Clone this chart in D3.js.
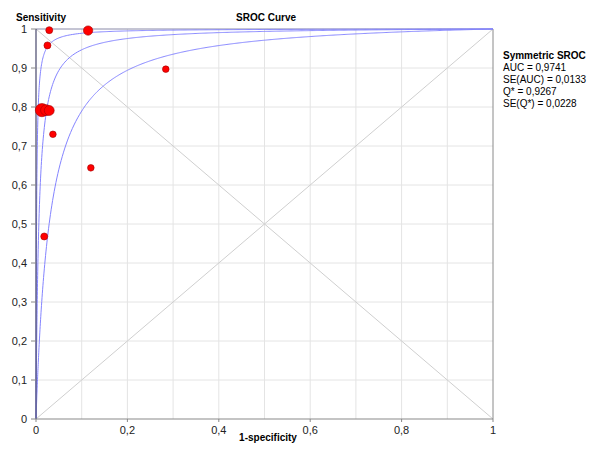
<!DOCTYPE html>
<html>
<head>
<meta charset="utf-8">
<script src="https://cdn.jsdelivr.net/npm/d3@7"></script>
<style>
html,body{margin:0;padding:0;background:#fff;}
svg{display:block;font-family:"Liberation Sans",Arial,sans-serif;}
</style>
</head>
<body>
<script>
// Study points (1-specificity, sensitivity) and relative weights
const fpr  = [0.029, 0.114, 0.025, 0.284, 0.013, 0.022, 0.029, 0.037, 0.120, 0.018];
const sens = [0.997, 0.996, 0.958, 0.897, 0.792, 0.792, 0.791, 0.730, 0.644, 0.468];
const weight = [9, 16, 9, 8, 32, 22, 18, 8, 8, 9];
// SROC curve parameters (D = a, symmetric): lower bound, estimate, upper bound
const curveNames = ["lower", "sroc", "upper"];
const curveA = [3.52, 5.074, 6.7];
// Axis ticks
const yTicks = [0,0.1,0.2,0.3,0.4,0.5,0.6,0.7,0.8,0.9,1];
const xTicks = [0,0.2,0.4,0.6,0.8,1];
const xGrid = [0.1,0.2,0.3,0.4,0.5,0.6,0.7,0.8,0.9];
const yGrid = [0.1,0.2,0.3,0.4,0.5,0.6,0.7,0.8,0.9];
const legendTitle = "Symmetric SROC";
const legendLines = ["AUC = 0,9741", "SE(AUC) = 0,0133", "Q* = 0,9267", "SE(Q*) = 0,0228"];

const W = 600, H = 458;
const svg = d3.select("body").append("svg").attr("width", W).attr("height", H);
const x = d3.scaleLinear().domain([0,1]).range([36, 493]);
const y = d3.scaleLinear().domain([0,1]).range([419, 29]);
const r = d3.scaleSqrt().domain([0, d3.max(weight)]).range([0, 6.6]);
const fmt = d => d === 0 ? "0" : d === 1 ? "1" : d.toFixed(1).replace(".", ",");

// grid
svg.append("g").selectAll("line").data(xGrid).join("line")
  .attr("x1", d => x(d)).attr("x2", d => x(d)).attr("y1", y(0)).attr("y2", y(1))
  .attr("stroke", "#e4e4e4").attr("stroke-width", 1);
svg.append("g").selectAll("line").data(yGrid).join("line")
  .attr("y1", d => y(d)).attr("y2", d => y(d)).attr("x1", x(0)).attr("x2", x(1))
  .attr("stroke", "#e4e4e4").attr("stroke-width", 1);

// diagonals
svg.append("line").attr("x1", x(0)).attr("y1", y(0)).attr("x2", x(1)).attr("y2", y(1))
  .attr("stroke", "#cfcfcf").attr("stroke-width", 1);
svg.append("line").attr("x1", x(0)).attr("y1", y(1)).attr("x2", x(1)).attr("y2", y(0))
  .attr("stroke", "#cfcfcf").attr("stroke-width", 1);

// border
svg.append("line").attr("x1", x(0)).attr("y1", y(1)).attr("x2", x(1)).attr("y2", y(1)).attr("stroke", "#8a8aa8");
svg.append("line").attr("x1", x(1)).attr("y1", y(1)).attr("x2", x(1)).attr("y2", y(0)).attr("stroke", "#8a8a8a");

// curves
const logit = p => Math.log(p / (1 - p));
const fs = [];
for (let e = -6; e < -1; e += 0.02) fs.push(Math.pow(10, e));
for (let f = 0.1; f < 1; f += 0.002) fs.push(f);
fs.push(0.99999);
const line = d3.line().x(d => x(d[0])).y(d => y(d[1]));
curveA.forEach(a => {
  const pts = [[0,0]].concat(fs.map(f => [f, 1 / (1 + Math.exp(-(a + logit(f))))])).concat([[1,1]]);
  svg.append("path").attr("d", line(pts)).attr("fill", "none")
    .attr("stroke", "#8484ff").attr("stroke-width", 1);
});

// axes
svg.append("line").attr("x1", x(0)).attr("y1", y(0)).attr("x2", x(0)).attr("y2", y(1))
  .attr("stroke", "#555577").attr("stroke-width", 1.3);
svg.append("line").attr("x1", x(0)).attr("y1", y(0)).attr("x2", x(1)).attr("y2", y(0))
  .attr("stroke", "#8a8a8a").attr("stroke-width", 1.2);

svg.append("g").selectAll("line").data(yTicks).join("line")
  .attr("x1", x(0) - 5).attr("x2", x(0)).attr("y1", d => y(d)).attr("y2", d => y(d))
  .attr("stroke", "#888");
svg.append("g").selectAll("text").data(yTicks).join("text")
  .attr("x", 27).attr("y", d => y(d)).attr("dy", "0.35em").attr("text-anchor", "end")
  .attr("font-size", 11).attr("fill", "#222").text(fmt);
svg.append("g").selectAll("line").data(xTicks).join("line")
  .attr("x1", d => x(d)).attr("x2", d => x(d)).attr("y1", y(0)).attr("y2", y(0) + 3)
  .attr("stroke", "#888");
svg.append("g").selectAll("text").data(xTicks).join("text")
  .attr("x", d => x(d)).attr("y", y(0) + 11).attr("dy", "0.35em").attr("text-anchor", "middle")
  .attr("font-size", 11).attr("fill", "#222").text(fmt);

// points
const idx = d3.range(fpr.length).sort((i, j) => weight[j] - weight[i]);
svg.append("g").selectAll("circle").data(idx).join("circle")
  .attr("cx", i => x(fpr[i])).attr("cy", i => y(sens[i])).attr("r", i => r(weight[i]))
  .attr("fill", "#ff0000").attr("stroke", "#a00000").attr("stroke-width", 0.6);

// titles
svg.append("text").attr("x", 16).attr("y", 17).attr("dy", "0.35em").attr("font-size", 10)
  .attr("font-weight", "bold").text("Sensitivity");
svg.append("text").attr("x", 266).attr("y", 17).attr("dy", "0.35em").attr("font-size", 10)
  .attr("font-weight", "bold").attr("text-anchor", "middle").text("SROC Curve");
svg.append("text").attr("x", 268).attr("y", 437).attr("dy", "0.35em").attr("font-size", 10)
  .attr("font-weight", "bold").attr("text-anchor", "middle").text("1-specificity");

// legend
svg.append("text").attr("x", 503).attr("y", 55).attr("dy", "0.35em").attr("font-size", 10)
  .attr("font-weight", "bold").text(legendTitle);
svg.append("g").selectAll("text").data(legendLines).join("text")
  .attr("x", 503).attr("y", (d, i) => 67 + i * 12).attr("dy", "0.35em").attr("font-size", 10)
  .text(d => d);
</script>
</body>
</html>
